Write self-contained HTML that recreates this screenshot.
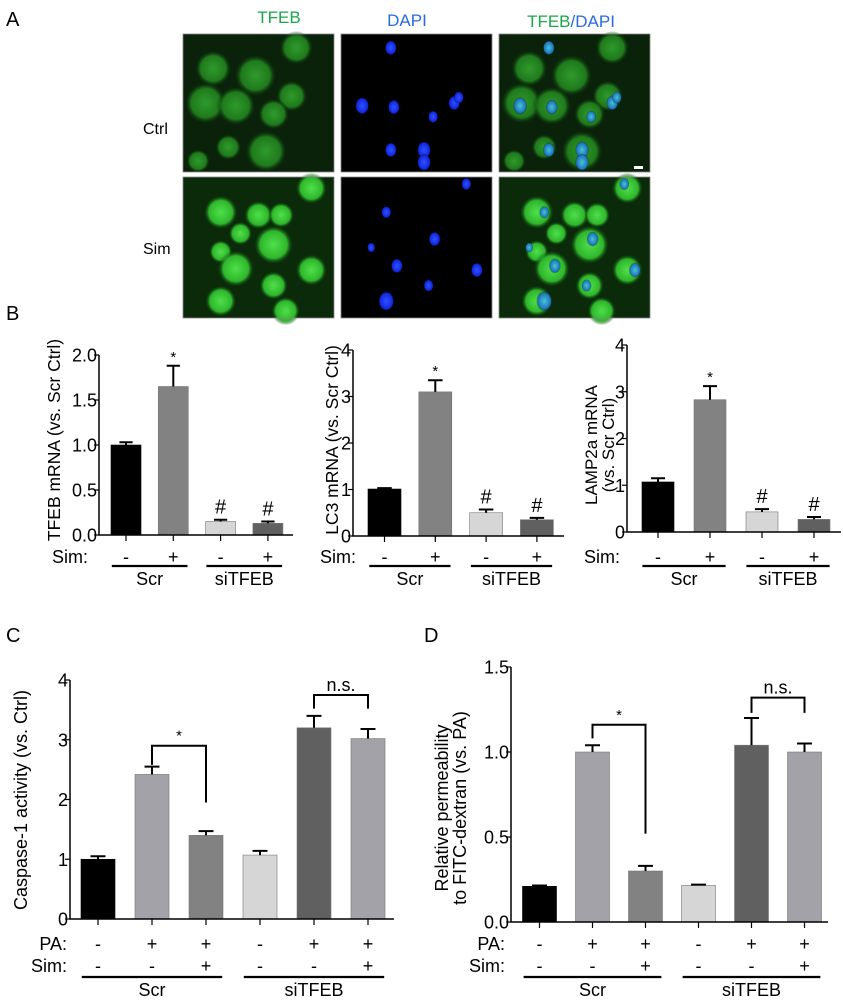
<!DOCTYPE html>
<html><head><meta charset="utf-8"><style>
html,body{margin:0;padding:0;background:#fff;}
svg{display:block;font-family:"Liberation Sans",sans-serif;}
</style></head><body>
<svg id="fig" width="843" height="1000" viewBox="0 0 843 1000" xmlns="http://www.w3.org/2000/svg">
<defs>
<radialGradient id="gcell"><stop offset="0" stop-color="#4fe04a"/><stop offset="0.7" stop-color="#2fb62c"/><stop offset="1" stop-color="#0a3a0a" stop-opacity="0"/></radialGradient>
<radialGradient id="gdim"><stop offset="0" stop-color="#2f9a2c"/><stop offset="0.7" stop-color="#1f7a1c"/><stop offset="1" stop-color="#0a2a0a" stop-opacity="0"/></radialGradient>
<radialGradient id="bnuc"><stop offset="0" stop-color="#3050ff"/><stop offset="0.8" stop-color="#1028e0"/><stop offset="1" stop-color="#000" stop-opacity="0"/></radialGradient>
<radialGradient id="cnuc"><stop offset="0" stop-color="#40c8d0"/><stop offset="0.8" stop-color="#2070c0"/><stop offset="1" stop-color="#000" stop-opacity="0"/></radialGradient>
</defs>
<g id="panelA">
<text x="6" y="26" font-size="20">A</text>
<text x="279" y="23" font-size="17" fill="#1aa64a" text-anchor="middle">TFEB</text>
<text x="407" y="26" font-size="17" fill="#2a6ae0" text-anchor="middle">DAPI</text>
<text x="571" y="27" font-size="17" text-anchor="middle"><tspan fill="#1aa64a">TFEB</tspan><tspan fill="#2a6ae0">/DAPI</tspan></text>
<text x="143" y="134" font-size="16">Ctrl</text>
<text x="143" y="254" font-size="16">Sim</text>
<g id="imgs"></g>
</g>
<g id="charts"></g>
</svg>
<script>
// ---- Panel B data ----
const bCats = ["Scr -", "Scr +", "siTFEB -", "siTFEB +"];
const tfebVals = [1.0, 1.65, 0.15, 0.13];
const tfebErr = [1.03, 1.88, 0.17, 0.15];
const tfebTicks = [0, 0.5, 1.0, 1.5, 2.0];
const tfebTickLabels = ["0.0", "0.5", "1.0", "1.5", "2.0"];
const tfebMarks = ["", "*", "#", "#"];
const lc3Vals = [1.01, 3.1, 0.5, 0.35];
const lc3Err = [1.03, 3.35, 0.57, 0.39];
const lc3Ticks = [0, 1, 2, 3, 4];
const lc3TickLabels = ["0", "1", "2", "3", "4"];
const lc3Marks = ["", "*", "#", "#"];
const lampVals = [1.07, 2.83, 0.43, 0.27];
const lampErr = [1.15, 3.12, 0.49, 0.32];
const lampTicks = [0, 1, 2, 3, 4];
const lampTickLabels = ["0", "1", "2", "3", "4"];
const lampMarks = ["", "*", "#", "#"];
const bSim = ["-", "+", "-", "+"];
// ---- Panel C data ----
const cPA = ["-", "+", "+", "-", "+", "+"];
const cSim = ["-", "-", "+", "-", "-", "+"];
const caspVals = [1.0, 2.42, 1.4, 1.07, 3.2, 3.02];
const caspErr = [1.05, 2.55, 1.47, 1.14, 3.4, 3.18];
const caspTicks = [0, 1, 2, 3, 4];
const caspTickLabels = ["0", "1", "2", "3", "4"];
// ---- Panel D data ----
const permVals = [0.21, 1.0, 0.3, 0.215, 1.04, 1.0];
const permErr = [0.215, 1.04, 0.33, 0.22, 1.2, 1.05];
const permTicks = [0, 0.5, 1.0, 1.5];
const permTickLabels = ["0.0", "0.5", "1.0", "1.5"];

const NS = "http://www.w3.org/2000/svg";
const root = document.getElementById("charts");
function mk(tag, attrs, parent) {
  const e = document.createElementNS(NS, tag);
  for (const k in attrs) e.setAttribute(k, attrs[k]);
  (parent || root).appendChild(e);
  return e;
}
function txt(x, y, s, size, anchor, parent) {
  const t = mk("text", {x: x, y: y, "font-size": size, "text-anchor": anchor || "middle"}, parent);
  t.textContent = s;
  return t;
}

function chart(cfg) {
  const g = mk("g", {});
  
  
  const yS = v => cfg.y0 - (v / cfg.max) * (cfg.y0 - cfg.yTop);
  const xS = i => cfg.c0 + i * cfg.step;
  cfg.vals.forEach((v, i) => {
    const cx = xS(i);
    const r = mk("rect", {x: cx - cfg.bw / 2, y: yS(v), width: cfg.bw, height: cfg.y0 - yS(v), fill: cfg.colors[i], stroke: cfg.colors[i] === "#000" ? "#000" : "#777", "stroke-width": 0.6}, g);
    
    
    const ey = yS(cfg.err[i]);
    const e = mk("path", {d: `M${cx},${yS(v)}V${ey}M${cx - cfg.bw * 0.22},${ey}H${cx + cfg.bw * 0.22}`, stroke: "#000", "stroke-width": 2, fill: "none"}, g);
    
    
    if (cfg.marks && cfg.marks[i]) {
      const m = txt(cx, ey - (cfg.marks[i] === "*" ? 4 : 6), cfg.marks[i], cfg.marks[i] === "*" ? 15 : 20, "middle", g);
      
      
    }
    mk("line", {x1: cx, y1: cfg.y0, x2: cx, y2: cfg.y0 + 6, stroke: "#000", "stroke-width": 1.2}, g);
  });
  const ax = mk("path", {d: `M${cfg.ax},${cfg.yTop}V${cfg.y0}H${cfg.xEnd}`, stroke: "#000", "stroke-width": 1.5, fill: "none"}, g);
  
  
  cfg.ticks.forEach((t, i) => {
    const y = yS(t);
    mk("line", {x1: cfg.ax - 5, y1: y, x2: cfg.ax, y2: y, stroke: "#000", "stroke-width": 1.2}, g);
    const l = txt(cfg.ax - 2, y + 6.5, cfg.tickLabels[i], 18, "end", g);
    
    
  });
  const tg = mk("text", {transform: `translate(${cfg.tx},${cfg.ty}) rotate(-90)`, "font-size": cfg.tsize, "text-anchor": "middle"}, g);
  
  
  cfg.title.forEach((s, k) => {
    const ts = mk("tspan", {x: 0, dy: k === 0 ? 0 : cfg.tsize * 1.0}, tg);
    ts.textContent = s;
  });
  cfg.rows.forEach((row, r) => {
    const y = cfg.rowY[r];
    const lab = txt(cfg.rowLabelX, y, row.label, 18, "end", g);
    
    
    row.vals.forEach((s, i) => {
      const t = txt(xS(i), y, s, 18, "middle", g);
      
      
    });
  });
  const n = cfg.vals.length / 2;
  [0, 1].forEach(k => {
    const a = xS(k * n) - cfg.step * 0.3, b = xS(k * n + n - 1) + cfg.step * 0.3;
    mk("line", {x1: a, y1: cfg.lineY, x2: b, y2: cfg.lineY, stroke: "#000", "stroke-width": 2.2}, g);
    const t = txt((a + b) / 2, cfg.lineY + 19, k === 0 ? "Scr" : "siTFEB", 18, "middle", g);
    
    
  });
  (cfg.brackets || []).forEach(br => {
    const xa = xS(br.a), xb = xS(br.b), yb = yS(br.at);
    const p = mk("path", {d: `M${xa},${yS(br.la)}V${yb}H${xb}V${yS(br.lb)}`, stroke: "#000", "stroke-width": 2, fill: "none"}, g);
    
    
    const t = txt((xa + xb) / 2, yb - (br.label === "*" ? 5 : 4), br.label, br.label === "*" ? 15 : 18, "middle", g);
    
    
  });
}

const bCol = ["#000", "#828282", "#d6d6d6", "#606060"];
const cCol = ["#000", "#a2a2a8", "#828282", "#d6d6d6", "#606060", "#a2a2a8"];
const bp = mk("text", {x: 6, y: 320, "font-size": 20});
bp.textContent = "B";


const cp = mk("text", {x: 6, y: 642, "font-size": 20});
cp.textContent = "C";


const dp = mk("text", {x: 424, y: 642, "font-size": 20});
dp.textContent = "D";



chart({name: "tfeb-mrna-chart", vals: tfebVals, err: tfebErr, marks: tfebMarks, colors: bCol, ticks: tfebTicks, tickLabels: tfebTickLabels,
  max: 2, y0: 535, yTop: 355, ax: 99, xEnd: 293, c0: 126, step: 47.3, bw: 30,
  title: ["TFEB mRNA (vs. Scr Ctrl)"], tx: 60, ty: 440, tsize: 17.5,
  rows: [{label: "Sim:", vals: bSim}], rowY: [563], rowLabelX: 88, lineY: 566, brackets: []});
chart({name: "lc3-mrna-chart", vals: lc3Vals, err: lc3Err, marks: lc3Marks, colors: bCol, ticks: lc3Ticks, tickLabels: lc3TickLabels,
  max: 4, y0: 536, yTop: 350, ax: 353, xEnd: 564, c0: 384.5, step: 50.8, bw: 33,
  title: ["LC3 mRNA (vs. Scr Ctrl)"], tx: 338, ty: 440, tsize: 17.5,
  rows: [{label: "Sim:", vals: bSim}], rowY: [563], rowLabelX: 356, lineY: 566, brackets: []});
chart({name: "lamp2a-mrna-chart", vals: lampVals, err: lampErr, marks: lampMarks, colors: bCol, ticks: lampTicks, tickLabels: lampTickLabels,
  max: 4, y0: 532, yTop: 345, ax: 627, xEnd: 841, c0: 658, step: 52, bw: 32,
  title: ["LAMP2a mRNA", "(vs. Scr Ctrl)"], tx: 597, ty: 445, tsize: 17,
  rows: [{label: "Sim:", vals: bSim}], rowY: [563], rowLabelX: 620, lineY: 566, brackets: []});
chart({name: "caspase1-chart", vals: caspVals, err: caspErr, marks: null, colors: cCol, ticks: caspTicks, tickLabels: caspTickLabels,
  max: 4, y0: 919, yTop: 680, ax: 70, xEnd: 394, c0: 98, step: 54, bw: 34,
  title: ["Caspase-1 activity (vs. Ctrl)"], tx: 27, ty: 800, tsize: 18,
  rows: [{label: "PA:", vals: cPA}, {label: "Sim:", vals: cSim}], rowY: [950, 972], rowLabelX: 67, lineY: 977,
  brackets: [{a: 1, b: 2, at: 2.9, la: 2.58, lb: 1.95, label: "*"}, {a: 4, b: 5, at: 3.75, la: 3.52, lb: 3.52, label: "n.s."}]});
chart({name: "permeability-chart", vals: permVals, err: permErr, marks: null, colors: cCol, ticks: permTicks, tickLabels: permTickLabels,
  max: 1.5, y0: 922, yTop: 667, ax: 511, xEnd: 828, c0: 539.5, step: 53, bw: 34,
  title: ["Relative permeability", "to FITC-dextran (vs. PA)"], tx: 448, ty: 808, tsize: 18,
  rows: [{label: "PA:", vals: cPA}, {label: "Sim:", vals: cSim}], rowY: [950, 972], rowLabelX: 505, lineY: 977,
  brackets: [{a: 1, b: 2, at: 1.16, la: 1.08, lb: 0.52, label: "*"}, {a: 4, b: 5, at: 1.32, la: 1.23, lb: 1.23, label: "n.s."}]});

// ---- Panel A micrographs (decorative) ----
const imgs = document.getElementById("imgs");
const cols = [183, 341, 499], rows = [34, 177];
const ctrlCells = [[0.2,0.25,14],[0.48,0.3,16],[0.75,0.1,13],[0.72,0.45,12],[0.15,0.5,16],[0.35,0.52,15],[0.6,0.58,12],[0.55,0.85,16],[0.3,0.82,10],[0.1,0.92,9]];
const simCells = [[0.85,0.08,12],[0.25,0.25,13],[0.5,0.27,11],[0.65,0.27,10],[0.38,0.4,9],[0.6,0.48,15],[0.25,0.53,9],[0.35,0.65,14],[0.85,0.66,12],[0.6,0.77,11],[0.25,0.88,12],[0.68,0.95,11]];
const ctrlNuc = [[0.33,0.1,6],[0.14,0.52,7],[0.35,0.53,6],[0.61,0.6,5],[0.75,0.5,6],[0.33,0.84,6],[0.55,0.84,7],[0.55,0.93,7],[0.78,0.46,5]];
const simNuc = [[0.3,0.25,5],[0.62,0.44,6],[0.37,0.63,6],[0.9,0.66,6],[0.58,0.77,5],[0.3,0.88,8],[0.83,0.05,5],[0.2,0.5,4]];
rows.forEach((ry, r) => {
  const cells = r === 0 ? ctrlCells : simCells;
  const nucs = r === 0 ? ctrlNuc : simNuc;
  cols.forEach((cx, c) => {
    const g = mk("g", {}, imgs);
    
    
    const W = 151, H = r === 0 ? 138 : 141;
    mk("rect", {x: cx, y: ry, width: W, height: H, fill: c === 1 ? "#000" : (r === 0 ? "#0a220a" : "#0a2a0a")}, g);
    if (c !== 1) cells.forEach(p => mk("circle", {cx: cx + p[0] * W, cy: ry + p[1] * H, r: p[2] * 1.3, fill: r === 0 ? "url(#gdim)" : "url(#gcell)"}, g));
    if (c !== 0) nucs.forEach(p => mk("ellipse", {cx: cx + p[0] * W, cy: ry + p[1] * H, rx: p[2], ry: p[2] * 1.25, fill: c === 1 ? "url(#bnuc)" : "url(#cnuc)"}, g));
    mk("rect", {x: cx, y: ry, width: W, height: H, fill: "none", stroke: "#888", "stroke-width": 0.8}, g);
  });
});
const sb = mk("rect", {x: 634, y: 166, width: 9, height: 3, fill: "#fff"}, imgs);


</script>
</body></html>
